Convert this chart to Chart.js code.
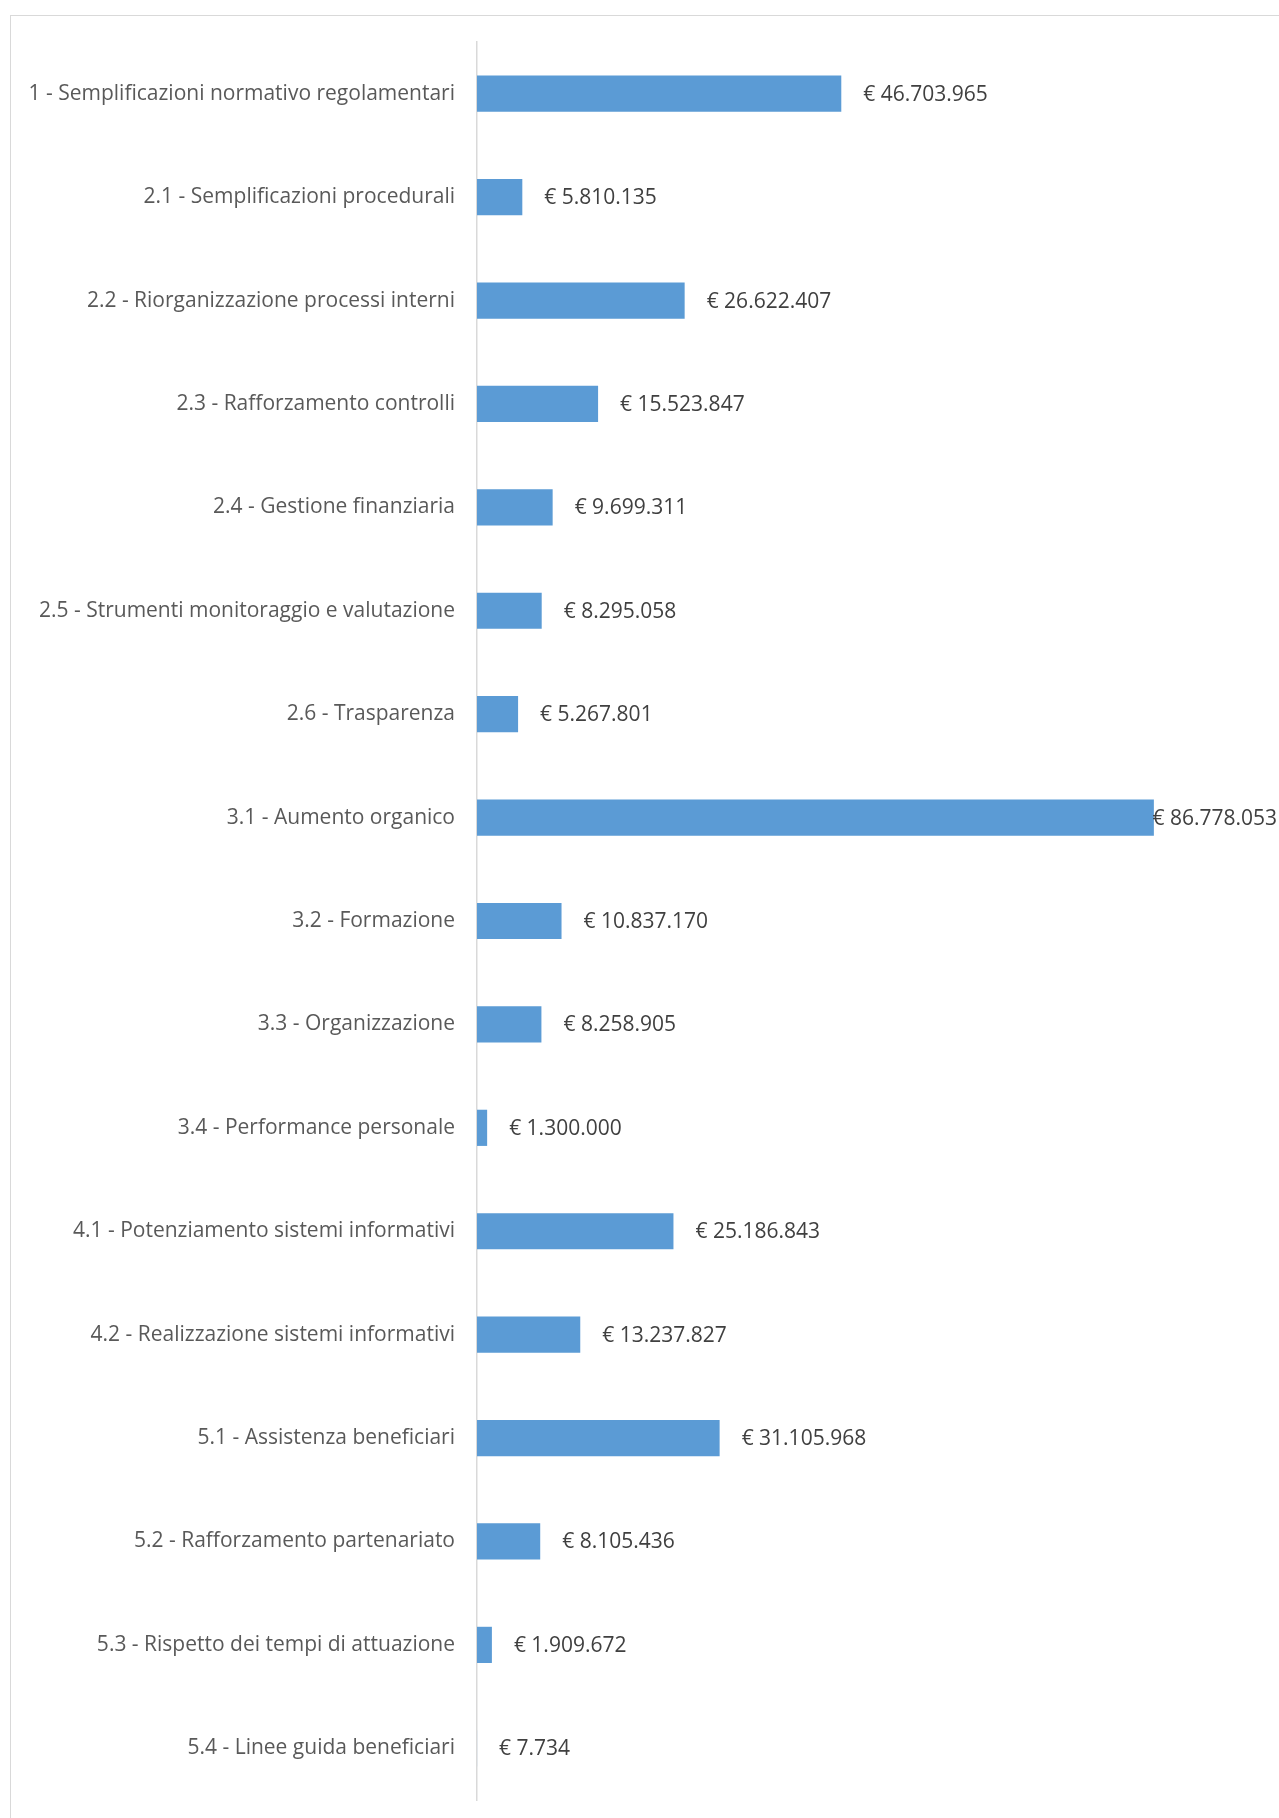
<!DOCTYPE html>
<html lang="it">
<head>
<meta charset="utf-8">
<title>Risorse per intervento</title>
<script src="https://cdn.jsdelivr.net/npm/chart.js@4.4.1/dist/chart.umd.min.js"></script>
<style>
  html, body { margin: 0; padding: 0; background: #fff; overflow: hidden; }
  #wrap { position: relative; width: 1279px; height: 1818px; }
  #frame {
    position: absolute; left: 10px; top: 15px; width: 1400px; height: 1900px;
    border: 1px solid #d9d9d9; box-sizing: border-box;
  }
  canvas { position: absolute; left: 0; top: 0; }
</style>
</head>
<body>
<div id="wrap">
  <div id="frame"></div>
  <canvas id="chart" width="1279" height="1818"></canvas>
</div>
<script>
// categorie (interventi) e importi in euro
const categorie = [
  "1 - Semplificazioni normativo regolamentari",
  "2.1 - Semplificazioni procedurali",
  "2.2 - Riorganizzazione processi interni",
  "2.3 - Rafforzamento controlli",
  "2.4 - Gestione finanziaria",
  "2.5 - Strumenti monitoraggio e valutazione",
  "2.6 - Trasparenza",
  "3.1 - Aumento organico",
  "3.2 - Formazione",
  "3.3 - Organizzazione",
  "3.4 - Performance personale",
  "4.1 - Potenziamento sistemi informativi",
  "4.2 - Realizzazione sistemi informativi",
  "5.1 - Assistenza beneficiari",
  "5.2 - Rafforzamento partenariato",
  "5.3 - Rispetto dei tempi di attuazione",
  "5.4 - Linee guida beneficiari"
];

const importi = [
  46703965, 5810135, 26622407, 15523847, 9699311, 8295058, 5267801,
  86778053, 10837170, 8258905, 1300000, 25186843, 13237827,
  31105968, 8105436, 1909672, 7734
];

const asseMin = 0;
const asseMax = 100000000;

const FONT = "'Open Sans', sans-serif";

// formato "€ 1.234.567"
function euro(v) {
  return "€ " + String(Math.round(v)).replace(/\B(?=(\d{3})+(?!\d))/g, ".");
}

// etichette con il valore a destra di ogni barra
const etichetteValori = {
  id: "etichetteValori",
  afterDatasetsDraw(chart) {
    const ctx = chart.ctx;
    const meta = chart.getDatasetMeta(0);
    ctx.save();
    ctx.font = "21px " + FONT;
    ctx.fillStyle = "#404040";
    ctx.textBaseline = "middle";
    ctx.textAlign = "left";
    meta.data.forEach((bar, i) => {
      const testo = euro(importi[i]);
      const w = ctx.measureText(testo).width;
      let x = bar.x + 22;
      // l'ultima etichetta non deve uscire dal riquadro
      if (x + w > chart.width - 2) x = chart.width - 2 - w;
      ctx.fillText(testo, x, bar.y + 1);
    });
    ctx.restore();
  }
};

new Chart(document.getElementById("chart"), {
  type: "bar",
  data: {
    labels: categorie,
    datasets: [{
      data: importi,
      backgroundColor: "#5b9bd5",
      borderWidth: 0,
      categoryPercentage: 0.35,
      barPercentage: 1
    }]
  },
  options: {
    indexAxis: "y",
    responsive: false,
    animation: false,
    layout: { padding: { top: 42, bottom: 18, right: 22, left: 0 } },
    plugins: {
      legend: { display: false },
      tooltip: { enabled: false }
    },
    scales: {
      x: {
        display: false,
        min: asseMin,
        max: asseMax
      },
      y: {
        grid: { display: false, drawTicks: false },
        border: { display: true, color: "#d9d9d9", width: 1.5 },
        ticks: {
          color: "#595959",
          font: { family: FONT, size: 21 },
          padding: 22
        },
        afterFit(scale) {
          scale.width = 477;
          scale.paddingTop = 0;
          scale.paddingBottom = 0;
        }
      }
    }
  },
  plugins: [etichetteValori]
});
</script>
</body>
</html>
